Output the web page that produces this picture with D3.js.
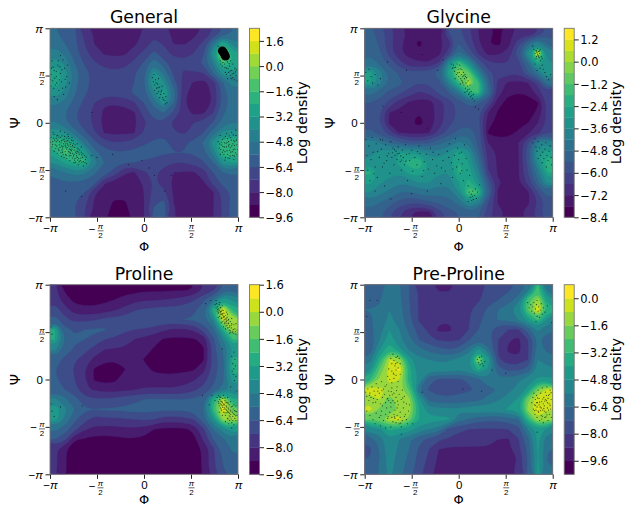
<!DOCTYPE html>
<html>
<head>
<meta charset="utf-8">
<style>
html, body { margin: 0; padding: 0; background: #fff; }
svg { display: block; font-family: "DejaVu Sans", sans-serif; }
</style>
</head>
<body>
<svg width="626" height="507"></svg>
<script src="https://d3js.org/d3.v7.min.js"></script>
<script>

// log density, 19 x 19 cells, top row is psi = +pi
var generalGrid = [
[-5.5,-5.9,-6.3,-7.4,-8.1,-8.5,-8.8,-8.7,-8.3,-7.9,-7.4,-7.6,-8.2,-8.4,-8.2,-7.8,-7.1,-6.2,-5.6],
[-5.0,-5.6,-6.2,-7.2,-8.05,-8.4,-8.5,-8.5,-8.2,-7.6,-7.0,-7.3,-8.05,-8.1,-7.8,-7.0,-5.0,-2.5,-4.5],
[-4.4,-5.0,-6.0,-7.0,-7.6,-8.1,-8.2,-8.15,-7.6,-7.0,-6.2,-6.9,-7.4,-7.5,-7.2,-6.5,-3.5,1.8,-3.0],
[-3.4,-4.2,-5.6,-6.5,-7.1,-7.5,-7.6,-7.5,-7.0,-6.3,-5.0,-6.1,-6.8,-7.0,-6.8,-6.2,-4.6,-1.5,-2.5],
[-2.4,-3.6,-5.2,-6.1,-6.7,-6.9,-7.0,-6.9,-6.5,-5.7,-3.6,-5.0,-6.6,-7.3,-7.3,-7.2,-5.6,-3.6,-3.4],
[-2.6,-3.7,-5.3,-6.2,-6.6,-6.7,-6.7,-6.7,-6.4,-5.8,-3.0,-3.8,-6.0,-7.5,-8.1,-8.35,-7.6,-5.6,-4.5],
[-3.4,-4.3,-5.5,-6.3,-6.7,-6.8,-6.8,-6.6,-6.3,-5.9,-4.2,-2.6,-5.2,-7.7,-8.4,-8.5,-7.8,-6.0,-5.0],
[-4.6,-5.0,-5.9,-6.6,-7.2,-7.9,-7.9,-7.8,-7.3,-6.4,-5.3,-3.6,-5.6,-7.9,-8.4,-8.5,-7.9,-6.0,-5.2],
[-5.2,-5.6,-6.3,-6.9,-7.4,-8.2,-8.4,-8.3,-8.1,-6.9,-6.0,-5.6,-6.6,-7.6,-8.2,-8.1,-7.2,-5.7,-5.2],
[-4.7,-5.4,-6.2,-6.8,-7.4,-8.3,-8.5,-8.4,-8.2,-7.4,-6.6,-6.6,-7.4,-7.4,-7.2,-6.9,-6.3,-5.3,-4.8],
[-3.3,-3.8,-5.2,-6.2,-7.1,-8.05,-8.2,-8.15,-8.05,-7.1,-6.6,-6.5,-7.1,-7.3,-7.0,-6.4,-5.2,-3.8,-3.5],
[-1.8,-1.8,-3.0,-5.0,-6.2,-6.9,-7.2,-7.1,-6.8,-6.5,-6.3,-6.3,-6.5,-6.5,-6.2,-5.5,-3.6,-1.6,-1.8],
[-2.6,-1.4,-1.8,-3.2,-5.3,-6.0,-6.3,-6.3,-6.2,-6.1,-6.2,-6.3,-6.4,-6.4,-6.3,-5.9,-4.5,-1.6,-1.8],
[-4.0,-3.0,-2.4,-2.2,-4.4,-5.6,-6.1,-6.4,-6.4,-6.5,-6.6,-6.9,-7.2,-7.2,-6.9,-6.5,-5.6,-3.6,-3.2],
[-5.2,-4.8,-4.4,-4.6,-5.5,-6.0,-6.7,-7.9,-8.05,-7.3,-7.0,-7.5,-8.0,-8.1,-8.1,-7.6,-6.4,-5.6,-5.4],
[-5.9,-5.7,-5.7,-5.8,-6.1,-7.9,-8.3,-8.4,-8.4,-7.9,-7.1,-7.5,-8.2,-8.4,-8.4,-8.1,-6.9,-6.1,-6.0],
[-6.2,-6.1,-6.2,-6.4,-7.9,-8.3,-8.5,-8.5,-8.4,-8.0,-6.9,-7.0,-8.1,-8.4,-8.4,-8.2,-8.05,-6.9,-6.2],
[-6.1,-6.0,-6.4,-7.0,-8.1,-8.4,-8.9,-8.9,-8.4,-8.0,-6.6,-6.2,-8.0,-8.4,-8.4,-8.2,-8.05,-7.0,-6.1],
[-5.9,-6.0,-6.3,-7.2,-8.2,-8.5,-9.2,-9.2,-8.4,-8.0,-6.1,-6.0,-7.9,-8.3,-8.3,-8.2,-8.0,-7.0,-5.9]
];
var glycineGrid = [
[-5.2,-5.6,-6.3,-6.9,-7.3,-7.4,-7.5,-7.3,-6.0,-5.8,-6.4,-7.2,-7.6,-7.9,-7.4,-7.0,-7.1,-6.6,-5.6],
[-5.0,-5.5,-6.4,-7.1,-7.4,-8.0,-7.5,-7.4,-6.9,-5.4,-6.2,-7.1,-7.8,-8.0,-7.4,-6.3,-5.0,-3.8,-5.0],
[-4.9,-5.3,-6.2,-7.1,-7.4,-7.6,-7.6,-7.4,-6.3,-4.6,-5.6,-6.7,-7.4,-7.3,-7.0,-5.5,-3.4,0.8,-3.8],
[-4.3,-5.0,-5.6,-6.3,-7.0,-7.1,-7.15,-6.5,-3.6,-1.5,-3.4,-5.5,-6.5,-6.6,-6.6,-6.3,-4.8,-2.4,-3.6],
[-2.6,-3.8,-5.0,-5.5,-5.8,-5.7,-5.6,-5.1,-2.6,0.0,-0.8,-3.8,-5.8,-6.2,-6.4,-6.5,-5.5,-4.4,-3.0],
[-2.9,-4.0,-4.9,-5.2,-5.7,-6.0,-5.9,-5.6,-4.0,-1.8,0.2,-1.8,-5.0,-6.9,-7.3,-7.4,-7.2,-6.4,-4.4],
[-4.6,-5.1,-5.6,-5.9,-6.3,-6.7,-6.5,-5.9,-5.4,-4.5,-2.2,-1.8,-4.7,-6.9,-7.7,-7.8,-7.7,-6.9,-6.1],
[-5.4,-5.6,-6.2,-6.9,-7.3,-7.5,-7.5,-6.9,-6.3,-5.7,-5.2,-5.3,-6.1,-7.6,-8.0,-8.1,-8.1,-7.85,-6.3],
[-5.7,-6.0,-7.2,-7.4,-7.6,-7.8,-7.5,-6.9,-6.3,-5.9,-5.7,-5.9,-7.2,-7.9,-8.1,-8.1,-8.0,-7.7,-6.3],
[-5.6,-6.0,-7.35,-7.6,-7.7,-8.0,-7.6,-6.9,-6.2,-5.7,-5.6,-5.8,-7.6,-8.0,-8.1,-8.0,-7.8,-7.2,-6.4],
[-5.2,-5.6,-6.3,-7.2,-7.3,-7.4,-7.2,-6.4,-5.7,-5.2,-5.0,-5.6,-7.9,-8.05,-8.0,-7.7,-7.3,-6.8,-6.0],
[-3.6,-4.2,-4.9,-5.2,-5.6,-5.7,-5.5,-5.0,-4.6,-4.1,-4.4,-5.6,-7.2,-7.5,-7.5,-7.2,-6.0,-4.0,-3.8],
[-3.9,-3.4,-3.2,-3.0,-3.1,-3.2,-3.9,-4.0,-3.5,-2.6,-3.4,-5.2,-6.9,-7.3,-7.4,-7.3,-5.6,-3.1,-2.6],
[-3.2,-3.6,-3.3,-2.8,-2.0,-1.8,-3.1,-3.2,-3.2,-2.4,-3.0,-4.6,-6.8,-7.3,-7.4,-7.3,-5.8,-3.5,-1.8],
[-2.2,-3.2,-3.4,-3.5,-2.8,-2.6,-3.2,-3.5,-3.6,-2.2,-2.6,-4.0,-6.5,-7.3,-7.4,-7.3,-6.0,-4.4,-2.4],
[-2.8,-3.5,-3.8,-4.1,-4.0,-3.6,-3.6,-4.0,-3.9,-3.0,-2.2,-3.4,-5.6,-7.1,-7.4,-7.3,-6.4,-5.0,-3.4],
[-3.6,-4.0,-4.4,-4.8,-4.9,-4.6,-4.4,-4.6,-4.6,-3.6,-1.2,-1.8,-5.0,-7.3,-7.5,-7.4,-7.3,-6.0,-5.0],
[-4.4,-4.8,-5.1,-5.6,-5.9,-5.8,-5.5,-5.3,-5.0,-4.6,-3.4,-4.0,-6.0,-7.3,-7.5,-7.6,-7.3,-6.6,-5.7],
[-5.0,-5.2,-5.9,-6.5,-7.1,-7.4,-7.3,-6.3,-5.6,-5.4,-5.0,-5.4,-6.2,-7.0,-7.3,-7.3,-7.0,-6.2,-5.5]
];
var prolineGrid = [
[-7.8,-8.9,-9.3,-9.3,-9.4,-9.4,-9.3,-9.2,-9.1,-9.0,-8.95,-8.95,-8.9,-8.9,-8.8,-8.0,-7.4,-6.3,-5.7],
[-7.4,-8.5,-9.0,-9.1,-9.1,-9.0,-8.8,-8.5,-8.3,-8.1,-8.1,-8.0,-7.9,-7.7,-7.3,-6.6,-5.4,-3.5,-4.2],
[-6.9,-7.6,-8.5,-8.6,-8.6,-8.4,-8.1,-7.8,-7.3,-7.1,-7.0,-6.9,-6.9,-6.8,-6.6,-5.9,-2.8,0.6,-2.8],
[-6.0,-7.0,-7.4,-7.4,-7.3,-7.0,-6.9,-6.8,-6.6,-6.5,-6.5,-6.6,-6.6,-6.4,-6.3,-5.9,-4.6,0.4,-0.6],
[-3.2,-6.2,-6.5,-6.4,-6.3,-6.3,-6.6,-7.0,-7.2,-7.3,-7.5,-7.9,-8.1,-8.1,-7.9,-6.9,-5.9,-3.0,0.0],
[-3.2,-5.6,-6.3,-6.4,-6.6,-7.2,-7.4,-7.7,-8.0,-8.3,-8.5,-8.9,-9.0,-9.0,-8.9,-8.6,-6.6,-4.8,-2.4],
[-4.6,-6.0,-6.5,-6.9,-7.6,-8.0,-8.1,-8.1,-8.2,-8.4,-8.9,-9.2,-9.35,-9.3,-9.1,-8.9,-6.8,-5.4,-4.0],
[-6.0,-6.6,-7.1,-7.6,-8.2,-8.6,-8.7,-8.6,-8.2,-8.85,-9.1,-9.3,-9.3,-9.2,-9.0,-8.9,-6.9,-5.8,-2.8],
[-6.4,-6.8,-7.3,-8.0,-8.9,-9.2,-9.2,-8.85,-8.3,-8.5,-8.95,-9.1,-9.1,-9.0,-8.9,-8.2,-6.9,-5.8,-2.6],
[-6.3,-6.7,-7.2,-7.9,-8.9,-9.1,-9.0,-8.4,-8.3,-8.4,-8.4,-8.4,-8.4,-8.3,-8.1,-7.6,-6.6,-5.7,-3.6],
[-6.0,-6.4,-6.9,-7.9,-8.1,-8.3,-8.3,-8.2,-8.05,-7.9,-7.9,-7.9,-7.9,-7.8,-7.4,-6.9,-6.2,-5.3,-4.4],
[-4.6,-5.4,-6.1,-6.8,-7.1,-7.1,-7.0,-6.8,-6.6,-6.4,-6.3,-6.4,-6.4,-6.4,-6.3,-6.0,-2.8,0.0,-3.2],
[-3.3,-4.6,-5.6,-6.3,-6.4,-6.3,-6.3,-6.2,-6.1,-6.1,-6.2,-6.2,-6.3,-6.2,-6.1,-5.6,-2.4,1.2,-1.6],
[-3.5,-5.0,-6.2,-6.9,-7.6,-7.4,-7.4,-7.3,-7.2,-7.1,-7.2,-7.6,-7.6,-7.5,-7.2,-5.9,-4.0,-0.6,-0.4],
[-5.4,-6.0,-7.0,-7.9,-8.2,-8.3,-8.3,-8.2,-8.2,-8.3,-8.8,-9.0,-9.0,-9.0,-8.6,-7.4,-5.6,-4.4,-3.5],
[-6.4,-7.0,-8.7,-8.9,-9.1,-9.1,-9.0,-8.9,-8.9,-9.0,-9.1,-9.2,-9.2,-9.2,-9.1,-7.9,-6.4,-5.7,-5.0],
[-7.8,-8.7,-9.3,-9.3,-9.3,-9.3,-9.3,-9.2,-9.2,-9.2,-9.2,-9.2,-9.2,-9.2,-9.1,-8.7,-7.4,-6.0,-5.5],
[-7.8,-8.7,-9.3,-9.4,-9.4,-9.4,-9.4,-9.4,-9.4,-9.4,-9.4,-9.4,-9.3,-9.3,-9.2,-8.7,-7.4,-6.3,-5.7],
[-7.8,-8.7,-9.3,-9.4,-9.45,-9.5,-9.5,-9.5,-9.5,-9.5,-9.45,-9.4,-9.3,-9.3,-9.2,-8.7,-7.4,-6.5,-5.7]
];
var preProlineGrid = [
[-6.7,-6.6,-6.0,-6.3,-7.2,-8.1,-8.3,-8.9,-8.9,-8.3,-8.1,-8.1,-7.9,-7.6,-7.3,-7.0,-5.8,-3.2,-6.0],
[-6.6,-6.5,-5.9,-6.2,-7.2,-8.1,-8.3,-8.4,-8.4,-8.2,-8.1,-8.1,-7.6,-7.2,-6.9,-6.0,-2.8,-1.2,-4.6],
[-6.4,-6.3,-5.6,-6.1,-7.1,-8.1,-8.3,-8.5,-8.5,-8.3,-8.1,-7.7,-7.0,-6.4,-5.8,-5.0,-2.4,0.2,-3.4],
[-6.5,-6.2,-5.4,-6.0,-7.0,-8.1,-8.4,-8.6,-8.7,-8.4,-8.1,-7.4,-6.8,-6.3,-6.2,-5.6,-4.4,-3.0,-5.0],
[-6.6,-6.0,-4.8,-5.6,-6.6,-7.6,-8.2,-9.0,-9.0,-8.4,-8.0,-7.2,-6.9,-7.8,-8.0,-8.1,-6.8,-5.4,-6.2],
[-7.1,-5.6,-4.4,-5.4,-6.2,-7.2,-7.8,-8.1,-8.2,-8.1,-7.3,-6.6,-6.9,-8.0,-8.7,-9.0,-8.0,-6.3,-6.8],
[-7.0,-4.8,-3.4,-4.6,-5.7,-6.2,-6.6,-7.0,-7.2,-7.0,-6.1,-4.6,-6.2,-8.1,-8.9,-9.1,-8.1,-6.0,-6.6],
[-6.0,-3.6,-0.8,-1.2,-4.4,-5.4,-5.6,-5.8,-5.7,-5.4,-4.9,-1.4,-4.4,-7.9,-8.6,-8.6,-8.0,-5.6,-6.0],
[-5.0,-2.4,-0.4,0.2,-3.6,-5.4,-5.2,-5.2,-5.2,-5.4,-5.2,-3.8,-5.0,-6.9,-7.4,-7.4,-6.9,-5.3,-5.4],
[-3.4,-1.4,-0.6,-0.8,-3.8,-5.0,-7.0,-7.3,-7.4,-7.3,-7.1,-6.6,-5.8,-6.2,-6.1,-5.8,-5.2,-4.6,-4.6],
[-0.4,-0.6,-1.0,-1.2,-2.6,-6.4,-7.3,-7.5,-7.6,-7.5,-7.3,-7.1,-6.6,-6.4,-5.9,-5.3,-4.6,-1.8,-0.6],
[-1.2,-0.8,-2.0,-1.2,-1.4,-4.6,-6.6,-7.0,-7.0,-6.9,-6.8,-6.6,-6.2,-5.7,-5.2,-4.7,-1.8,-0.2,-0.4],
[-0.4,-1.8,-2.4,-1.4,-1.0,-4.0,-5.3,-5.3,-5.4,-5.4,-5.2,-5.0,-5.1,-5.0,-4.7,-4.4,-1.4,0.1,-0.8],
[-2.4,-2.0,-0.8,-0.4,-2.0,-4.0,-4.4,-4.6,-4.6,-6.0,-6.5,-6.9,-7.0,-7.0,-6.8,-6.4,-3.4,-1.0,-1.4],
[-5.2,-5.0,-3.8,-4.2,-4.4,-5.2,-5.6,-6.0,-7.5,-7.9,-8.0,-8.1,-8.1,-8.1,-8.0,-7.6,-5.6,-4.4,-5.0],
[-6.8,-6.0,-4.9,-5.6,-6.3,-7.0,-7.4,-7.9,-8.1,-8.2,-8.3,-8.3,-8.4,-8.8,-8.9,-8.1,-6.6,-4.6,-6.2],
[-7.4,-6.4,-5.0,-5.8,-6.4,-7.3,-8.0,-8.8,-9.0,-9.0,-9.0,-9.0,-9.0,-9.0,-9.0,-8.3,-7.0,-4.6,-6.4],
[-7.2,-6.4,-5.2,-6.0,-6.6,-7.5,-8.2,-9.0,-9.0,-9.0,-9.0,-9.0,-9.0,-9.0,-9.0,-8.8,-7.1,-4.8,-6.5],
[-6.9,-6.3,-5.3,-6.0,-6.8,-7.6,-8.5,-9.0,-9.0,-9.0,-9.0,-9.0,-9.0,-9.0,-8.95,-8.6,-7.0,-4.4,-6.3]
];

// scatter samples as [phi, psi] in degrees
var generalPoints = [
[-178,-28],[-172,-22],[-175,-36],[-168,-30],[-165,-24],[-170,-42],[-162,-36],[-160,-28],[-158,-44],[-155,-33],[-152,-26],[-150,-40],[-148,-50],[-146,-34],[-144,-44],[-142,-56],[-140,-38],[-138,-50],[-136,-46],[-134,-60],[-132,-42],[-130,-54],[-128,-66],[-126,-50],[-124,-60],[-122,-72],[-120,-56],[-118,-66],[-116,-74],[-114,-62],[-112,-70],[-110,-78],[-176,-46],[-164,-50],[-156,-56],[-150,-60],[-144,-30],[-140,-62],[-136,-34],[-132,-68],[-128,-40],[-124,-74],[-120,-46],[-174,-18],[-160,-16],[-152,-18],[-146,-22],[-138,-28],[-172,-54],[-166,-58],[-158,-64],[-148,-68],[-142,-72],[-134,-76],[-126,-80],[-116,-82],[-154,-40],[-146,-42],[-140,-46],[-134,-52],[-156,-48],[-150,-46],[-162,-42],[-143,-50],[-137,-58],[-129,-58],[-125,-68],[-168,-36],[-158,-34],[-152,-36],
[-171,-33],[-149,-62],[-133,-47],[-163,-27],[-127,-71],[-157,-52],[-141,-41],[-119,-61],[-153,-31],[-137,-67],[-167,-44],[-145,-55],[-123,-52],[-159,-38],[-131,-75],[-149,-29],[-113,-76],[-175,-41],[-139,-53],[-155,-61],[-128,-48],[-143,-37],[-165,-33],[-121,-67],[-147,-47],[-135,-63],[-161,-47],[-117,-58],[-151,-55],[-129,-63],[-173,-29],[-141,-58],[-125,-57],[-157,-25],[-137,-43],[-111,-65],[-169,-49],[-145,-26],[-133,-71],[-153,-66],[-179,-37],[-147,-39],[-135,-39],[-155,-45],[-143,-63],[-119,-75],[-163,-53],[-131,-57],[-149,-35],[-139,-33],[-127,-55],[-159,-57],[-151,-43],[-141,-51],[-167,-25],
[-178,92],[-175,80],[-172,100],[-170,72],[-168,88],[-165,110],[-163,62],[-160,94],[-158,78],[-155,120],[-152,104],[-150,68],[-148,88],[-176,118],[-172,50],[-166,44],[-160,128],[-154,54],[-146,110],[-143,76],[-178,70],[-174,106],[-168,98],[-162,82],[-173,66],[-167,76],[-157,101],[-151,83],[-177,104],[-164,118],[-171,85],[-156,66],[-161,107],[-179,82],
[16,86],[18,78],[20,72],[22,82],[24,66],[26,74],[28,60],[30,68],[32,54],[34,62],[36,48],[38,56],[40,42],[42,50],[44,38],[25,56],[30,48],[20,62],[35,70],[28,84],[27,67],[33,59],[23,76],[37,44],[41,36],[19,92],
[146,118],[150,108],[154,112],[158,104],[160,116],[162,96],[164,108],[166,90],[168,100],[170,86],[172,94],[174,104],[156,96],[160,84],[152,122],[148,126],[176,90],[166,118],[170,112],[144,136],[142,146],[162,124],[178,80],[155,105],[163,113],[169,93],[158,92],[173,82],[165,99],[151,115],[175,97],[161,103],[147,112],[167,84],[177,101],
[142,-36],[146,-24],[148,-42],[150,-32],[152,-52],[154,-38],[156,-26],[158,-46],[160,-60],[162,-36],[164,-52],[166,-28],[168,-44],[170,-62],[172,-34],[174,-50],[176,-24],[178,-42],[144,-48],[150,-56],[156,-66],[164,-68],[172,-70],[178,-60],[158,-20],[168,-18],[176,-14],[146,-60],[154,-46],[162,-44],[170,-40],[160,-30],[166,-56],[174,-36],
[155,-55],[163,-41],[171,-51],[149,-37],[159,-53],[167,-33],[175,-57],[153,-29],[165,-63],[173,-43],[157,-39],[147,-51],[169,-55],[161,-67],[177,-33],[151,-45],[179,-51],[163,-25],[155,-71],[171,-23],[145,-40],[165,-47],[159,-37],[173,-63],[153,-60],
[52,-100],[-30,-80],[20,-100],[40,-130],[-60,-60],[-100,20],[-120,-140],[-150,-130],[-4,-72],[10,-86],[-100,-62],[-90,-66]
];
var generalCore = [[150,137],[152,134],[154,131],[156,127]];
var glycinePoints = [
[-14,112],[-12,104],[-10,110],[-8,98],[-6,106],[-4,92],[-3,112],[-1,102],[0,88],[1,96],[2,110],[4,84],[5,92],[6,102],[7,78],[8,88],[9,96],[10,72],[11,84],[12,92],[13,66],[14,76],[15,86],[16,60],[17,70],[18,80],[19,54],[20,64],[22,72],[23,50],[24,60],[26,46],[28,54],[30,42],[-7,84],[3,74],[12,58],[32,30],[38,26],[-30,120],[-40,100],[-2,95],[6,81],[13,88],[21,57],[-9,105],[10,90],[17,63],[3,103],[25,52],[8,76],
[144,140],[146,132],[148,138],[149,126],[150,134],[151,142],[152,128],[153,136],[154,124],[155,132],[156,140],[157,118],[158,126],[148,122],[146,112],[160,110],[162,102],[165,96],[168,88],[172,82],[156,104],[150,100],[176,92],[160,122],[142,146],[151,131],[153,127],[149,137],[155,137],
[-178,-32],[-176,-62],[-174,-90],[-172,-44],[-170,-110],[-168,-70],[-166,-28],[-164,-56],[-160,-84],[-158,-40],[-156,-104],[-152,-66],[-150,-32],[-148,-50],[-146,-84],[-142,-120],[-140,-42],[-138,-72],[-134,-58],[-132,-96],[-130,-36],[-128,-66],[-126,-48],[-124,-80],[-122,-62],[-120,-54],[-118,-70],[-116,-46],[-114,-58],[-112,-74],[-110,-90],[-108,-52],[-106,-66],[-104,-80],[-102,-42],[-100,-60],[-98,-110],[-94,-72],[-90,-52],[-88,-92],[-84,-66],[-80,-80],[-76,-44],[-74,-58],[-70,-102],[-66,-74],[-62,-60],[-58,-88],[-54,-48],[-50,-70],[-46,-96],[-42,-82],[-38,-60],[-34,-116],[-30,-72],[-26,-92],[-22,-54],[-18,-40],[-14,-76],[-12,-104],[-8,-62],[-6,-30],[-4,-84],[-2,-48],[0,-70],[3,-96],[5,-56],[7,-78],[9,-110],[11,-42],[14,-68],[16,-90],[18,-120],[21,-100],[-90,-135],[-130,-145],[-60,-130],[-160,-130],
[-137,-63],[-117,-59],[-109,-71],[-123,-51],[-101,-73],[-127,-57],[-111,-63],[-95,-59],[-143,-77],[-155,-55],[-79,-55],[-67,-91],[-49,-56],[-33,-86],[-19,-66],[-11,-88],[1,-58],[6,-91],[-162,-97],[-146,-33],
[20,-132],[22,-142],[24,-136],[25,-148],[26,-140],[27,-130],[28,-146],[30,-138],[32,-126],[34,-144],[36,-132],[40,-118],[18,-150],
[142,-38],[146,-30],[148,-46],[150,-54],[152,-36],[155,-48],[157,-62],[159,-42],[161,-56],[163,-68],[165,-50],[167,-38],[169,-62],[171,-72],[173,-54],[175,-44],[177,-66],[178,-80],[160,-76],[168,-84],[152,-68],
[-178,96],[-174,80],[-172,102],[-168,88],[-165,76],[-160,92],[-155,72],[-150,84],[-136,116],[-100,100],[-70,130],[-60,-10],[-110,20],[-145,32]
];
var prolinePoints = [
[136,142],[138,136],[139,144],[140,130],[141,138],[142,126],[143,134],[144,142],[145,120],[146,128],[147,136],[148,116],[149,124],[150,132],[151,110],[152,118],[153,126],[154,106],[155,114],[156,122],[157,102],[158,110],[159,118],[160,98],[161,106],[162,114],[163,94],[164,102],[165,110],[166,90],[167,98],[168,106],[170,92],[172,88],[174,96],[176,86],[178,94],[142,118],[148,108],[156,96],[164,88],[150,140],[158,128],[145,146],[152,100],[160,124],[168,116],[172,104],[147,124],[153,120],[148,130],[143,128],[151,122],[157,116],[161,112],[138,150],[176,106],
[146,137],[152,131],[149,117],[155,109],[159,103],[163,99],[169,89],[165,93],[144,131],[150,125],[154,119],[158,113],[162,107],[167,103],[171,95],[141,133],[147,129],[153,113],[157,107],[175,91],
[140,-34],[142,-42],[143,-30],[144,-50],[145,-38],[146,-46],[147,-34],[148,-56],[149,-42],[150,-50],[151,-36],[152,-62],[153,-46],[154,-54],[155,-40],[156,-68],[157,-50],[158,-58],[159,-44],[160,-74],[161,-54],[162,-62],[163,-48],[164,-78],[165,-58],[166,-66],[167,-52],[168,-82],[169,-62],[170,-70],[171,-56],[172,-86],[173,-66],[174,-74],[175,-60],[176,-78],[178,-68],[144,-62],[150,-68],[156,-80],[162,-84],[168,-92],[136,-40],[152,-30],[160,-34],[166,-42],[172,-48],[148,-48],[152,-48],[156,-56],[160,-60],[164,-64],[150,-44],[154,-48],[158,-52],[162,-56],[166,-60],[146,-54],[170,-78],[176,-50],[130,-30],
[147,-41],[153,-57],[159,-63],[165,-71],[171,-65],[149,-59],[155,-35],[161,-45],[167,-75],[173,-59],[143,-45],[151,-53],[157,-43],[163,-69],[169,-51],[175,-69],[145,-33],[155,-63],[161,-75],[177,-61],
[168,44],[170,30],[172,20],[174,38],[171,10],[173,-2],[169,16],[175,26],[176,6],[172,52],[166,-14],[178,-22],
[-178,-46],[-176,-60],[-172,-70],[-176,86],[-178,100],[-160,-52],[-118,-50],[112,-30],[125,-48],[150,58],[128,150],[118,144]
];
var preProlinePoints = [
[-130,40],[-128,30],[-126,48],[-124,36],[-122,26],[-120,42],[-118,32],[-116,22],[-114,40],[-112,30],[-128,16],[-124,10],[-120,18],[-134,20],[-136,6],[-132,0],[-128,-6],[-124,2],[-120,8],[-116,-4],[-112,10],
[-178,-24],[-176,-32],[-174,-18],[-172,-40],[-170,-26],[-168,-34],[-166,-14],[-164,-44],[-162,-22],[-160,-30],[-158,-8],[-156,-38],[-154,-16],[-152,-26],[-150,-46],[-148,-4],[-146,-34],[-144,-18],[-142,-28],[-140,-44],[-138,-10],[-136,-36],[-134,-22],[-132,-30],[-130,-52],[-128,-16],[-126,-40],[-124,-26],[-122,-58],[-120,-34],[-118,-14],[-116,-48],[-114,-28],[-112,-62],[-110,-38],[-108,-20],[-106,-54],[-104,-32],[-102,-66],[-100,-46],[-176,-60],[-170,-68],[-164,-76],[-158,-64],[-152,-72],[-148,-60],[-144,-78],[-140,-66],[-136,-74],[-132,-62],[-128,-72],[-126,-80],[-124,-66],[-122,-74],[-120,-82],[-118,-68],[-116,-76],[-114,-84],[-112,-72],[-108,-78],[-104,-70],[-100,-76],[-96,-60],[-94,-48],[-150,-88],[-140,-92],[-160,-84],[-130,-90],[-110,-90],[-98,-84],[-146,-50],[-138,-54],[-130,-44],[-122,-44],[-134,-40],[-118,-54],
[-171,-30],[-159,-43],[-147,-21],[-137,-37],[-127,-29],[-117,-41],[-105,-43],[-149,-68],[-135,-70],[-123,-71],[-111,-83],[-141,-13],[-129,-23],[-155,-22],[-163,-36],[-119,-21],[-107,-35],[-125,12],[-121,30],[-117,44],
[140,-44],[142,-34],[143,-56],[144,-26],[145,-48],[146,-66],[147,-38],[148,-58],[149,-30],[150,-72],[151,-44],[152,-20],[153,-62],[154,-36],[155,-78],[156,-52],[157,-26],[158,-68],[159,-42],[160,-16],[161,-58],[162,-82],[163,-34],[164,-50],[165,-72],[166,-24],[167,-62],[168,-40],[169,-14],[170,-54],[171,-78],[172,-30],[173,-46],[174,-66],[175,-20],[176,-56],[177,-38],[178,-72],[154,-48],[158,-54],[162,-46],[166,-38],[170,-44],[152,-60],[160,-70],[168,-30],[174,-28],[150,-52],[164,-60],[172,-58],
[155,-43],[161,-37],[147,-49],[169,-67],[157,-59],[151,-35],[165,-41],[175,-49],[145,-59],[159,-75],[171,-36],[163,-55],[149,-44],[167,-71],[177,-25],
[132,146],[135,136],[138,142],[140,130],[142,138],[144,146],[145,126],[147,134],[149,142],[150,120],[152,130],[153,138],[155,118],[157,132],[158,144],[160,124],[162,136],[165,128],[148,110],[170,140],[178,108],[150,150],
[36,38],[38,32],[40,42],[41,28],[43,36],[45,30],[47,26],[44,44],[50,34],[64,18],
[-170,150],[-156,150],[-176,120],[8,-18],[44,-22],[90,12],[-110,-104],[-70,-24],[-88,-84],[150,-100]
];

var generalLevels = d3.range(0, 16).map(function(i) { return +(-9.6 + i * 0.8).toFixed(1); });
var glycineLevels = d3.range(0, 18).map(function(i) { return +(-8.4 + i * 0.6).toFixed(1); });
var prolineLevels = d3.range(0, 15).map(function(i) { return +(-9.6 + i * 0.8).toFixed(1); });
var preProlineLevels = d3.range(0, 15).map(function(i) { return +(-10.4 + i * 0.8).toFixed(1); });

var generalTicks = [-9.6, -8.0, -6.4, -4.8, -3.2, -1.6, 0.0, 1.6];
var glycineTicks = [-8.4, -7.2, -6.0, -4.8, -3.6, -2.4, -1.2, 0.0, 1.2];
var prolineTicks = [-9.6, -8.0, -6.4, -4.8, -3.2, -1.6, 0.0, 1.6];
var preProlineTicks = [-9.6, -8.0, -6.4, -4.8, -3.2, -1.6, 0.0];

var angleTicks = [-180, -90, 0, 90, 180];

var panels = [
  {title: "General", grid: generalGrid, levels: generalLevels, ticks: generalTicks, points: generalPoints, core: generalCore, left: 50, top: 28.3, bottom: 217.3},
  {title: "Glycine", grid: glycineGrid, levels: glycineLevels, ticks: glycineTicks, points: glycinePoints, core: [], left: 364.7, top: 28.3, bottom: 217.3},
  {title: "Proline", grid: prolineGrid, levels: prolineLevels, ticks: prolineTicks, points: prolinePoints, core: [], left: 50, top: 284.7, bottom: 474.3},
  {title: "Pre-Proline", grid: preProlineGrid, levels: preProlineLevels, ticks: preProlineTicks, points: preProlinePoints, core: [], left: 364.7, top: 284.7, bottom: 474.3}
];

var panelWidth = 188;
var spine = "#777";
var svg = d3.select("svg");
var clipCount = 0;

function angleLabel(sel, d, horizontal) {
  // pi tick labels, the half angles get a stacked fraction
  var g = sel.append("g").attr("fill", "#000");
  var size = 11.5;
  if (Math.abs(d) === 90) {
    var neg = d < 0;
    var anchorX = horizontal ? (neg ? 3 : 0) : -8;
    var baseY = horizontal ? 12 : 0;
    if (neg) g.append("text").attr("x", anchorX - 5).attr("y", baseY + 4).attr("text-anchor", "end").attr("font-size", size).text("\u2212");
    g.append("text").attr("x", anchorX).attr("y", baseY).attr("text-anchor", "middle").attr("font-size", 8).attr("font-style", "italic").text("\u03c0");
    g.append("line").attr("x1", anchorX - 3).attr("x2", anchorX + 3).attr("y1", baseY + 1.5).attr("y2", baseY + 1.5).attr("stroke", "#000").attr("stroke-width", 0.6);
    g.append("text").attr("x", anchorX).attr("y", baseY + 9).attr("text-anchor", "middle").attr("font-size", 8).text("2");
    return;
  }
  var t = g.append("text").attr("font-size", size);
  if (horizontal) t.attr("y", 15).attr("text-anchor", "middle");
  else t.attr("x", -7).attr("y", 4).attr("text-anchor", "end");
  if (d === 0) { t.text("0"); return; }
  if (d < 0) t.append("tspan").text("\u2212");
  t.append("tspan").attr("font-style", "italic").text("\u03c0");
}

panels.forEach(function(p) {
  var right = p.left + panelWidth;
  var n = p.grid.length;
  var values = [];
  p.grid.forEach(function(row) { row.forEach(function(v) { values.push(v); }); });

  var x = d3.scaleLinear().domain([-180, 180]).range([p.left, right]);
  var y = d3.scaleLinear().domain([-180, 180]).range([p.bottom, p.top]);
  var gridX = d3.scaleLinear().domain([0, n]).range([p.left, right]);
  var gridY = d3.scaleLinear().domain([0, n]).range([p.top, p.bottom]);
  var bands = p.levels.length - 1;
  var color = function(i) { return d3.interpolateViridis(i / (bands - 1)); };

  // rings are rounded with a curve, points on the frame are pushed outside it so the clip hides them
  var ringLine = d3.line()
    .x(function(d) { return gridX(d[0] <= 0 ? -1 : d[0] >= n ? n + 1 : d[0]); })
    .y(function(d) { return gridY(d[1] <= 0 ? -1 : d[1] >= n ? n + 1 : d[1]); })
    .curve(d3.curveBasisClosed);
  function contourPath(c) {
    var out = "";
    c.coordinates.forEach(function(poly) {
      poly.forEach(function(ring) { out += ringLine(ring.slice(0, -1)); });
    });
    return out;
  }

  var contours = d3.contours().size([n, n]).smooth(true)
    .thresholds(p.levels.slice(0, bands))(values);

  var id = "clip" + (clipCount++);
  svg.append("clipPath").attr("id", id).append("rect")
    .attr("x", p.left).attr("y", p.top).attr("width", panelWidth).attr("height", p.bottom - p.top);

  var g = svg.append("g");
  var area = g.append("g").attr("clip-path", "url(#" + id + ")");

  area.append("rect").attr("x", p.left).attr("y", p.top)
    .attr("width", panelWidth).attr("height", p.bottom - p.top).attr("fill", color(0));
  area.selectAll("path").data(contours).enter().append("path")
    .attr("d", contourPath)
    .attr("fill", function(d, i) { return color(i); })
    .attr("stroke", function(d, i) { return color(i); })
    .attr("stroke-width", 0.3);

  area.selectAll("circle.pt").data(p.points).enter().append("circle")
    .attr("class", "pt")
    .attr("cx", function(d) { return x(d[0]); })
    .attr("cy", function(d) { return y(d[1]); })
    .attr("r", 0.6)
    .attr("fill", "#000")
    .attr("fill-opacity", 0.65);
  area.selectAll("circle.core").data(p.core).enter().append("circle")
    .attr("class", "core")
    .attr("cx", function(d) { return x(d[0]); })
    .attr("cy", function(d) { return y(d[1]); })
    .attr("r", 4.4)
    .attr("fill", "#000");

  var xAxis = d3.axisBottom(x).tickValues(angleTicks).tickFormat("").tickSize(4.5).tickSizeOuter(0);
  var yAxis = d3.axisLeft(y).tickValues(angleTicks).tickFormat("").tickSize(4.5).tickSizeOuter(0);
  var gx = g.append("g").attr("transform", "translate(0," + p.bottom + ")").call(xAxis);
  var gy = g.append("g").attr("transform", "translate(" + p.left + ",0)").call(yAxis);
  gx.selectAll(".tick text").remove();
  gy.selectAll(".tick text").remove();
  gx.selectAll(".tick").each(function(d) { angleLabel(d3.select(this), d, true); });
  gy.selectAll(".tick").each(function(d) { angleLabel(d3.select(this), d, false); });
  g.selectAll(".tick > line").attr("stroke", "#222");
  g.selectAll(".domain").remove();

  g.append("rect").attr("x", p.left).attr("y", p.top)
    .attr("width", panelWidth).attr("height", p.bottom - p.top)
    .attr("fill", "none").attr("stroke", spine).attr("stroke-width", 0.9);

  g.append("text").attr("x", p.left + panelWidth / 2).attr("y", p.top - 5)
    .attr("text-anchor", "middle").attr("font-size", 17.3).text(p.title);
  g.append("text").attr("x", p.left + panelWidth / 2).attr("y", Math.min(p.bottom + 33.5, 503.9))
    .attr("text-anchor", "middle").attr("font-size", 13).text("\u03a6");
  g.append("text")
    .attr("transform", "translate(" + (p.left - 30) + "," + ((p.top + p.bottom) / 2) + ") rotate(-90)")
    .attr("text-anchor", "middle").attr("font-size", 14.4).text("\u03a8");

  // colour bar
  var cbLeft = right + 11.5;
  var cbWidth = 10;
  var cbScale = d3.scaleLinear()
    .domain([p.levels[0], p.levels[bands]]).range([p.bottom, p.top]);
  var cb = g.append("g");
  cb.selectAll("rect").data(d3.range(bands)).enter().append("rect")
    .attr("x", cbLeft)
    .attr("y", function(i) { return cbScale(p.levels[i + 1]); })
    .attr("width", cbWidth)
    .attr("height", function(i) { return cbScale(p.levels[i]) - cbScale(p.levels[i + 1]) + 0.3; })
    .attr("fill", color);
  cb.append("rect").attr("x", cbLeft).attr("y", p.top).attr("width", cbWidth).attr("height", p.bottom - p.top)
    .attr("fill", "none").attr("stroke", spine).attr("stroke-width", 0.9);
  var cbAxis = d3.axisRight(cbScale).tickValues(p.ticks).tickSize(4.5).tickSizeOuter(0)
    .tickFormat(function(d) { return d3.format(".1f")(d).replace("-", "\u2212"); });
  var gc = g.append("g").attr("transform", "translate(" + (cbLeft + cbWidth) + ",0)").call(cbAxis);
  gc.select(".domain").remove();
  gc.selectAll(".tick line").attr("stroke", "#222");
  gc.selectAll(".tick text").attr("font-size", 11.5).attr("font-family", "DejaVu Sans").attr("x", 6).attr("dy", "0.36em");
  g.append("text")
    .attr("transform", "translate(" + (cbLeft + 57) + "," + ((p.top + p.bottom) / 2) + ") rotate(-90)")
    .attr("text-anchor", "middle").attr("font-size", 14.4).text("Log density");
});

</script>
</body>
</html>
